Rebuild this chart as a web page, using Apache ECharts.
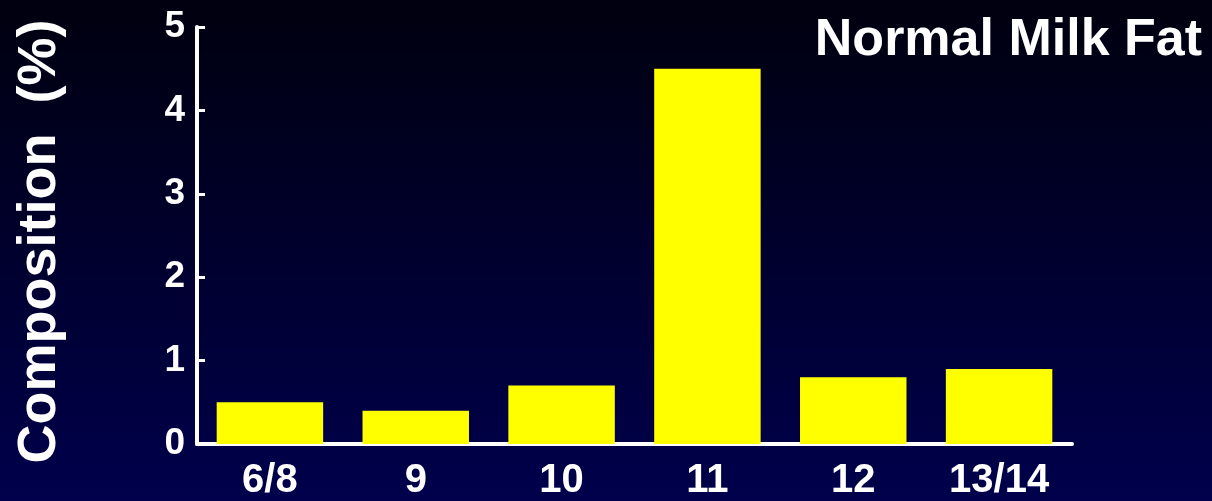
<!DOCTYPE html>
<html>
<head>
<meta charset="utf-8">
<script src="https://cdn.jsdelivr.net/npm/echarts@6/dist/echarts.min.js"></script>
<style>
  html, body { margin: 0; padding: 0; background: #000020; }
  #chart { width: 1212px; height: 501px; }
</style>
</head>
<body>
<div id="chart"></div>
<script>
// Milk fat composition by stage
const categories = ['6/8', '9', '10', '11', '12', '13/14'];
const fatValues = [0.5, 0.4, 0.7, 4.5, 0.8, 0.9];
const yTicks = [0, 1, 2, 3, 4, 5];

const FONT = '"Liberation Sans", Arial, Helvetica, sans-serif';

const chart = echarts.init(document.getElementById('chart'));
chart.setOption({
  backgroundColor: {
    type: 'linear', x: 0, y: 0, x2: 0, y2: 1,
    colorStops: [
      { offset: 0, color: '#00000f' },
      { offset: 1, color: '#00004c' }
    ]
  },
  animation: false,
  title: {
    text: 'Normal Milk Fat',
    right: 5,
    top: 10,
    textStyle: { color: '#ffffff', fontFamily: FONT, fontWeight: 'bold', fontSize: 52 }
  },
  grid: { left: 197, right: 140, top: 27, bottom: 56, containLabel: false },
  xAxis: {
    type: 'category',
    data: categories,
    axisLine: { lineStyle: { color: '#ffffff', width: 4 } },
    axisTick: { show: false },
    axisLabel: {
      color: '#ffffff', fontFamily: FONT, fontWeight: 'bold', fontSize: 40, margin: 17
    }
  },
  yAxis: {
    type: 'value',
    min: yTicks[0],
    max: yTicks[yTicks.length - 1],
    interval: 1,
    name: 'Composition  (%)',
    nameLocation: 'middle',
    nameGap: 130,
    nameTextStyle: { color: '#ffffff', fontFamily: FONT, fontWeight: 'bold', fontSize: 54, padding: [0, 12, 0, 0] },
    axisLine: { show: true, lineStyle: { color: '#ffffff', width: 4 } },
    axisTick: { show: true, inside: true, length: 8, lineStyle: { color: '#ffffff', width: 3 } },
    splitLine: { show: false },
    axisLabel: {
      color: '#ffffff', fontFamily: FONT, fontWeight: 'bold', fontSize: 37, margin: 12,
      formatter: v => (yTicks.includes(v) ? String(v) : '')
    }
  },
  series: [{
    type: 'bar',
    data: fatValues,
    barCategoryGap: '27%',
    itemStyle: { color: '#ffff00' }
  }]
});
</script>
</body>
</html>
